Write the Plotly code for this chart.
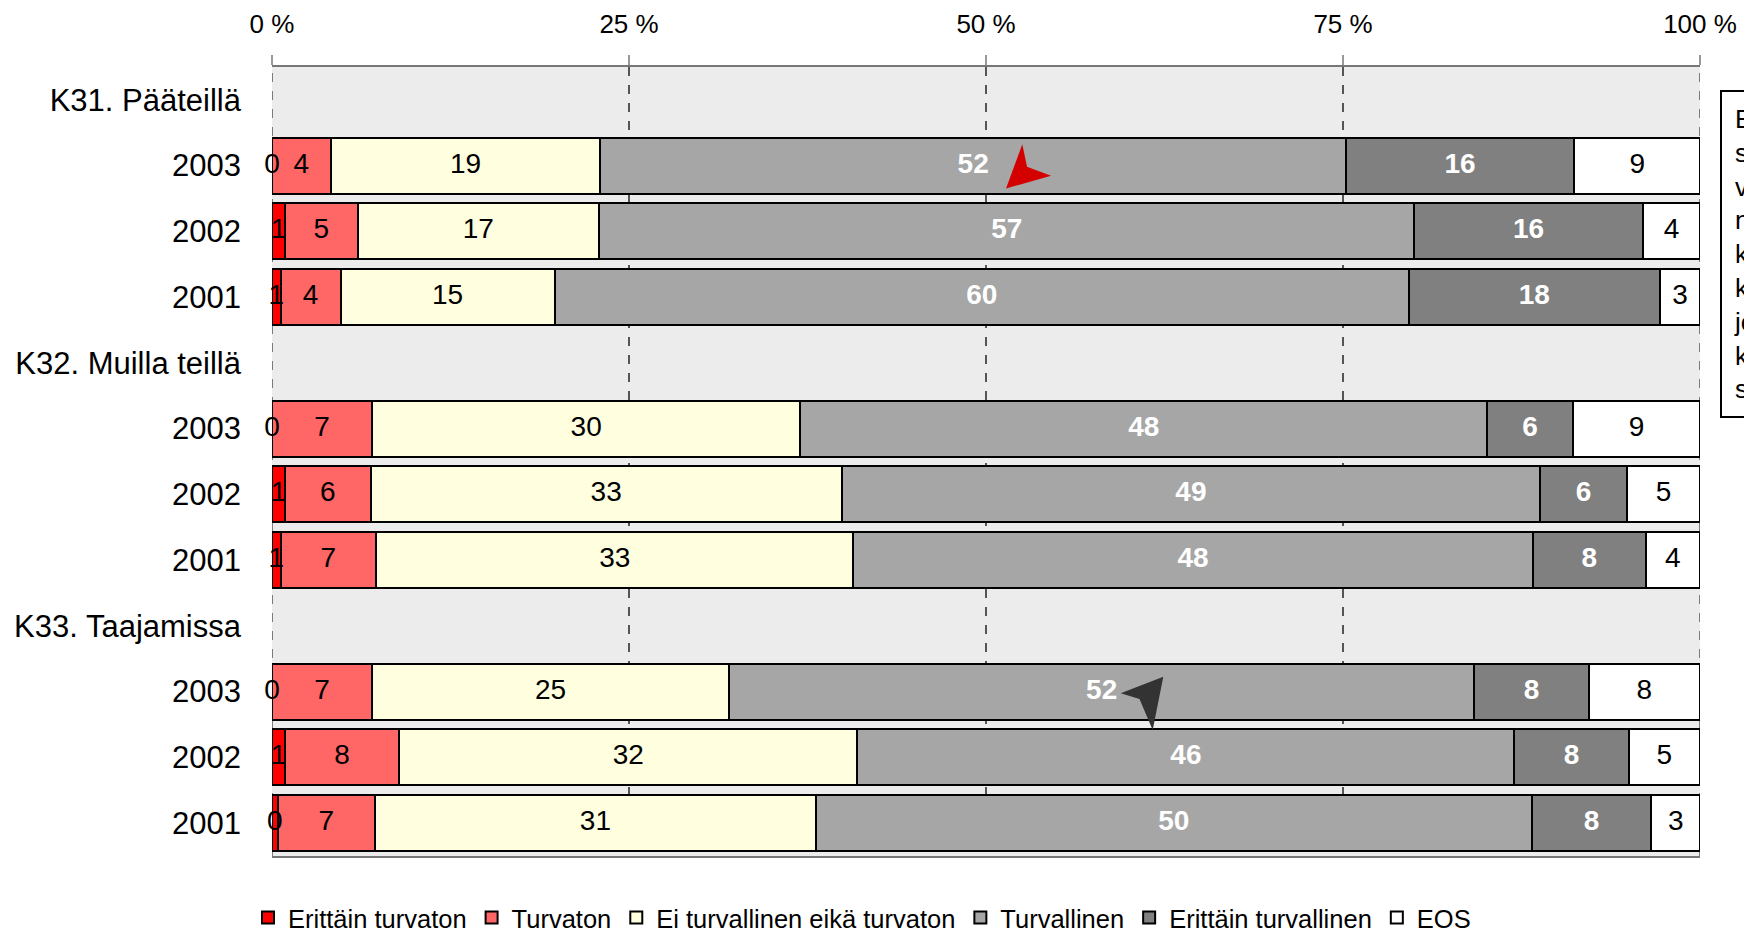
import plotly.graph_objects as go

# ---- data ----
groups = ["K31. Pääteillä", "K32. Muilla teillä", "K33. Taajamissa"]
years = ["2003", "2002", "2001"]
series_names = ["Erittäin turvaton", "Turvaton", "Ei turvallinen eikä turvaton",
                "Turvallinen", "Erittäin turvallinen", "EOS"]
# order of bars: K31 2003, 2002, 2001, K32 2003, 2002, 2001, K33 2003, 2002, 2001
erittain_turvaton = [0.0, 0.9, 0.6, 0.0, 0.9, 0.6, 0.0, 0.9, 0.4]
turvaton = [4.1, 5.1, 4.2, 7.0, 6.0, 6.7, 7.0, 8.0, 6.8]
ei_kumpikaan = [18.9, 16.9, 15.0, 30.0, 33.0, 33.4, 25.0, 32.1, 30.9]
turvallinen = [52.2, 57.1, 59.8, 48.1, 48.9, 47.6, 52.2, 46.0, 50.1]
erittain_turvallinen = [16.0, 16.0, 17.6, 6.0, 6.1, 7.9, 8.0, 8.0, 8.4]
eos = [8.8, 4.0, 2.8, 8.9, 5.1, 3.8, 7.8, 5.0, 3.4]
tick_vals_x = [0, 25, 50, 75, 100]
tick_text_x = ["0 %", "25 %", "50 %", "75 %", "100 %"]
note_lines = ["Erittäin turvalliseksi", "sekä turvalliseksi", "vastaajat kokivat",
              "nopeusrajoitukset", "kaikilla teillä", "kuitenkin harvemmin",
              "joten turvallisuuden", "kokemus on", "selvästi heikentynyt"]

series_values = [erittain_turvaton, turvaton, ei_kumpikaan, turvallinen,
                 erittain_turvallinen, eos]
colors = ["#ff0000", "#ff6666", "#ffffe0", "#a6a6a6", "#808080", "#ffffff"]
text_colors = ["#000000", "#000000", "#000000", "#ffffff", "#ffffff", "#000000"]
bold = [False, False, False, True, True, False]

FONT = "Liberation Sans Narrow, Arial Narrow, Liberation Sans, Arial, sans-serif"

# row layout: header then three years per group
tick_vals_y = []
tick_text_y = []
bar_rows = []
r = 0
for g in groups:
    tick_vals_y.append(r)
    tick_text_y.append(g)
    r += 1
    for yv in years:
        tick_vals_y.append(r)
        tick_text_y.append(yv)
        bar_rows.append(r)
        r += 1

fig = go.Figure()

cum = [0.0] * len(bar_rows)
label_traces = []
for name, vals, col, tcol, b in zip(series_names, series_values, colors, text_colors, bold):
    fig.add_trace(go.Bar(
        x=vals, y=bar_rows, orientation="h", name=name,
        marker=dict(color=col, line=dict(color="#000000", width=2)),
        width=0.85, hoverinfo="skip",
    ))
    mids = [c + v / 2 for c, v in zip(cum, vals)]
    cum = [c + v for c, v in zip(cum, vals)]
    label_traces.append(go.Scatter(
        x=mids, y=bar_rows, mode="text", text=[str(round(v)) for v in vals],
        textfont=dict(family=FONT, size=28, color=tcol,
                      weight="bold" if b else "normal"),
        showlegend=False, cliponaxis=False, hoverinfo="skip",
    ))
for t in label_traces:
    fig.add_trace(t)

# page has an 8px body margin: work in figure coordinates = page - 8
OFF = 8
W, H = 1752 - OFF, 933 - OFF
L, R, T, B = 272 - OFF, 1700 - OFF, 67 - OFF, 856 - OFF
nrows = len(tick_vals_y)


def px2d(px, py):
    px, py = px - OFF, py - OFF
    xd = (px - L) / (R - L) * 100
    yd = (py - T) / ((B - T) / nrows) - 0.5
    return xd, yd


def path(points):
    pts = [px2d(*p) for p in points]
    return "M " + " L ".join(f"{x:.3f},{y:.4f}" for x, y in pts) + " Z"


shapes = [
    dict(type="path", xref="x", yref="y",
         path=path([(1006, 188.5), (1022.3, 144.3), (1027, 166.7), (1051, 175.7)]),
         fillcolor="#d40000", line=dict(width=0)),
    dict(type="path", xref="x", yref="y",
         path=path([(1163.3, 676.7), (1120.7, 693.3), (1139.5, 699), (1152.7, 730)]),
         fillcolor="#333333", line=dict(width=0)),
]
for xv in (tick_vals_x[0], tick_vals_x[-1]):
    shapes.append(dict(type="line", xref="x", yref="paper", x0=xv, x1=xv, y0=0, y1=1,
                       line=dict(color="#555555", width=1.5, dash="dash"), layer="below"))

fig.update_layout(
    width=W, height=H, autosize=False,
    margin=dict(l=L, r=W - R, t=T, b=H - B, autoexpand=False),
    paper_bgcolor="#ffffff", plot_bgcolor="#ececec",
    barmode="stack", bargap=0.15,
    font=dict(family=FONT, color="#000000"),
    shapes=shapes,
    legend=dict(orientation="h", xref="container", x=(862 - OFF) / W, xanchor="center",
                yref="container", y=(H - (918 - OFF)) / H, yanchor="middle",
                font=dict(family=FONT, size=25.5, color="#000000"),
                traceorder="normal", itemwidth=30, bgcolor="rgba(0,0,0,0)"),
    annotations=[dict(
        xref="paper", yref="paper",
        x=(1720 - OFF - L) / (R - L), y=(B - (90 - OFF)) / (B - T),
        xanchor="left", yanchor="top", align="left",
        text="<br>".join(note_lines), showarrow=False,
        font=dict(family="Liberation Sans, Arial, sans-serif", size=26, color="#000000"),
        bordercolor="#000000", borderwidth=2, borderpad=12, bgcolor="#ffffff",
    )],
)

fig.update_xaxes(
    side="top", range=[0, 100], tickvals=tick_vals_x, ticktext=tick_text_x,
    tickfont=dict(family=FONT, size=26, color="#000000"),
    ticks="outside", ticklen=10, tickcolor="#999999", tickwidth=1.5,
    ticklabelstandoff=12, automargin=False,
    showgrid=True, gridcolor="#555555", griddash="dash", gridwidth=1.5,
    zeroline=False, showline=True, linecolor="#777777", linewidth=2, mirror=True,
    fixedrange=True,
)
fig.update_yaxes(
    range=[nrows - 0.5, -0.5], tickvals=tick_vals_y, ticktext=tick_text_y,
    tickfont=dict(family=FONT, size=31, color="#000000"),
    ticks="", ticklabelstandoff=30, automargin=False,
    showgrid=False, zeroline=False, showline=False,
    fixedrange=True,
)

fig.write_html("out.html")
